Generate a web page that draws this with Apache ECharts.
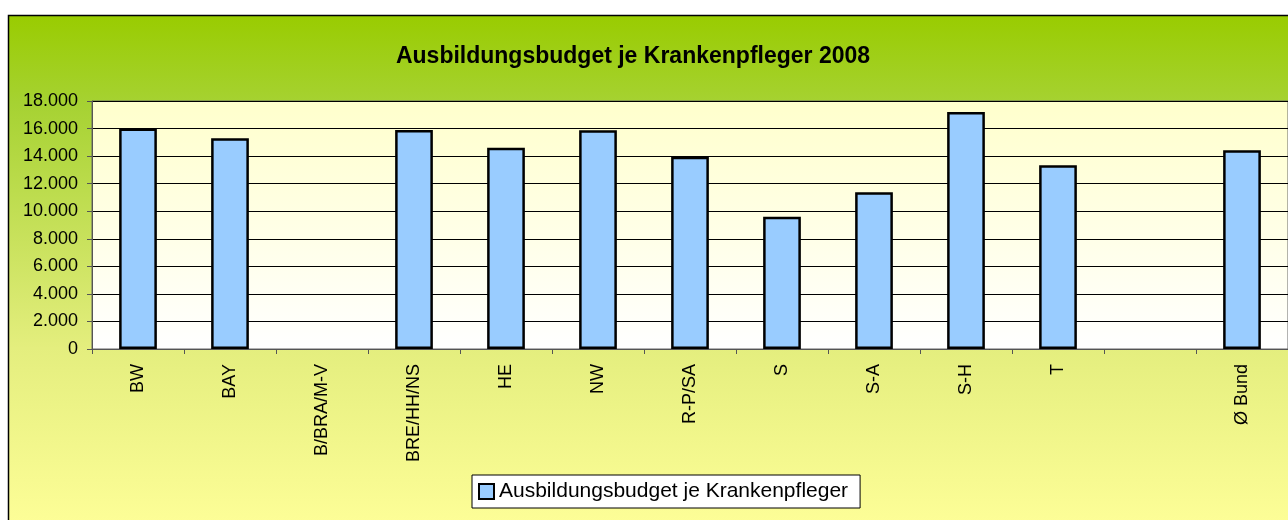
<!DOCTYPE html>
<html>
<head>
<meta charset="utf-8">
<script src="https://cdn.jsdelivr.net/npm/echarts@6/dist/echarts.min.js"></script>
<style>
html,body{margin:0;padding:0;background:#fff;}
#c{width:1288px;height:520px;}
</style>
</head>
<body>
<div id="c"></div>
<script>
const categories = ['BW','BAY','B/BRA/M-V','BRE/HH/NS','HE','NW','R-P/SA','S','S-A','S-H','T','','Ø Bund'];
const values = [16000, 15300, null, 15900, 14600, 15870, 13950, 9600, 11370, 17200, 13330, null, 14430];
const seriesName = 'Ausbildungsbudget je Krankenpfleger';
const titleText = 'Ausbildungsbudget je Krankenpfleger 2008';

const chart = echarts.init(document.getElementById('c'));
const font = 'Arial, "Liberation Sans", sans-serif';
chart.setOption({
  animation: false,
  graphic: [
    {
      type: 'rect', z: -10, silent: true,
      shape: { x: 8.5, y: 15.5, width: 1300, height: 520 },
      style: {
        fill: new echarts.graphic.LinearGradient(0, 0, 0, 1, [
          { offset: 0, color: '#99CC00' },
          { offset: 0.17, color: '#A6D232' },
          { offset: 0.64, color: '#E4EE7E' },
          { offset: 1, color: '#FFFF99' }
        ]),
        stroke: '#000', lineWidth: 1.5
      }
    },
    {
      type: 'text', silent: true,
      x: 633, y: 57,
      style: {
        text: titleText, fontFamily: font, fontSize: 23, fontWeight: 'bold',
        fill: '#000', align: 'center', verticalAlign: 'middle'
      }
    }
  ],
  grid: {
    left: 92, top: 101, width: 1197, height: 248,
    show: true,
    backgroundColor: new echarts.graphic.LinearGradient(0, 0, 0, 1, [
      { offset: 0, color: '#FFFFCC' },
      { offset: 1, color: '#FFFFFF' }
    ]),
    borderColor: '#666', borderWidth: 1
  },
  legend: {
    data: [{ name: seriesName, icon: 'rect' }],
    left: 472, top: 475,
    padding: [6, 12, 6, 6],
    backgroundColor: '#fff', borderColor: '#000', borderWidth: 1,
    itemWidth: 15, itemHeight: 15,
    textStyle: { fontFamily: font, fontSize: 21, color: '#000' }
  },
  xAxis: {
    type: 'category', data: categories,
    axisLine: { show: true, lineStyle: { color: '#555', width: 1 } },
    axisTick: { show: true, length: 5, lineStyle: { color: '#555' } },
    axisLabel: { rotate: 90, margin: 15, fontFamily: font, fontSize: 18, color: '#000', interval: 0 },
    splitLine: { show: false }
  },
  yAxis: {
    type: 'value', min: 0, max: 18000, interval: 2000,
    axisLine: { show: true, lineStyle: { color: '#555', width: 1 } },
    axisTick: { show: true, length: 5, lineStyle: { color: '#555' } },
    axisLabel: {
      margin: 14, fontFamily: font, fontSize: 18, color: '#000',
      formatter: v => v === 0 ? '0' : (v / 1000).toFixed(3)
    },
    splitLine: { show: true, lineStyle: { color: '#000', width: 1 } }
  },
  series: [{
    name: seriesName, type: 'bar', data: values, barWidth: '41%',
    itemStyle: { color: '#99CCFF', borderColor: '#000', borderWidth: 2.5 }
  }]
});
</script>
</body>
</html>
